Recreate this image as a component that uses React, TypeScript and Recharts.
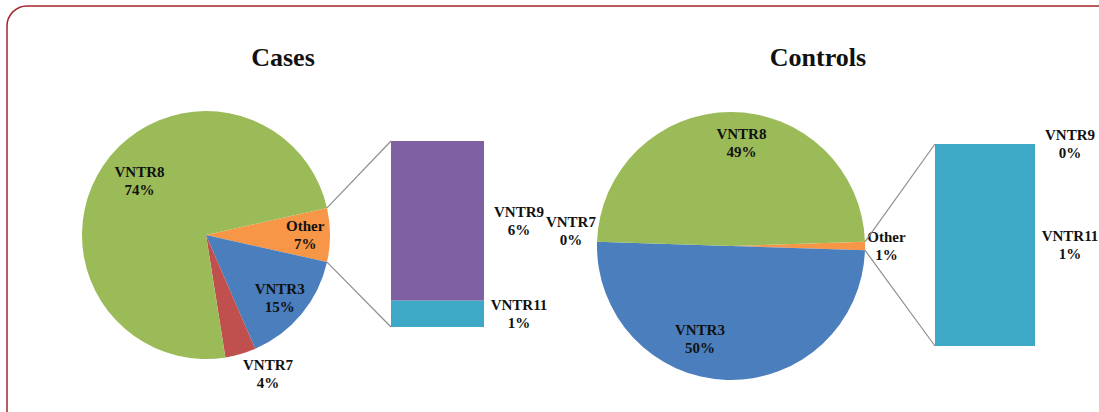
import React from "react";
import { PieChart, Pie, Cell, BarChart, Bar, XAxis, YAxis } from "recharts";

// pie slices, "Other" first so it sits on the right side
const sliceNames = ["Other", "VNTR3", "VNTR7", "VNTR8"];
const casesValues = [7, 15, 4, 74];
const controlsValues = [1, 50, 0, 49];

// breakdown of "Other", bottom to top
const barNames = ["VNTR11", "VNTR9"];
const casesBarValues = [1, 6];
const controlsBarValues = [1, 0];

const sliceColors: Record<string, string> = {
  Other: "#f79646",
  VNTR3: "#4a7ebd",
  VNTR7: "#c0504d",
  VNTR8: "#9bbb59",
};
const barColors: Record<string, string> = {
  VNTR9: "#7f60a2",
  VNTR11: "#3ea8c7",
};

const FONT = "'Liberation Serif', 'Times New Roman', serif";
const labelStyle = { fontFamily: FONT, fontWeight: 700, fontSize: 15, fill: "#111" };

type Layout = {
  title: string;
  titleX: number;
  cx: number;
  cy: number;
  r: number;
  bar: { x: number; y: number; w: number; h: number };
  // [radius factor, angle shift in degrees]
  labels: Record<string, [number, number]>;
};

const casesLayout: Layout = {
  title: "Cases",
  titleX: 283,
  cx: 206,
  cy: 235,
  r: 124,
  bar: { x: 391, y: 141, w: 93, h: 186 },
  labels: { Other: [0.8, 0], VNTR3: [0.78, -0.8], VNTR7: [1.23, 7.8], VNTR8: [0.69, -4.8] },
};

const controlsLayout: Layout = {
  title: "Controls",
  titleX: 818,
  cx: 731,
  cy: 246,
  r: 134,
  bar: { x: 935, y: 144, w: 100, h: 202 },
  labels: { Other: [1.16, 0], VNTR3: [0.73, -16.7], VNTR7: [1.2, -3.6], VNTR8: [0.77, -5.8] },
};

const PIE_BOX = 440;

function TwoLine({ x, y, top, bottom }: { x: number; y: number; top: string; bottom: string }) {
  return (
    <text x={x} y={y} textAnchor="middle" style={labelStyle}>
      <tspan x={x} dy={-4}>{top}</tspan>
      <tspan x={x} dy={18}>{bottom}</tspan>
    </text>
  );
}

function Panel({ layout, values, barValues }: { layout: Layout; values: number[]; barValues: number[] }) {
  const pieData = sliceNames.map((name, i) => ({ name, value: values[i] }));
  const total = values.reduce((a, b) => a + b, 0);
  const row: Record<string, any> = { cat: "Other" };
  barNames.forEach((n, i) => (row[n] = barValues[i]));

  // "Other" slice is centred on the horizontal axis
  const startAngle = (values[0] / total) * 180;
  const endAngle = startAngle - 360;
  const left = layout.cx - PIE_BOX / 2;

  const pieLabel = (props: any) => {
    const name = props.name ?? props.payload?.name;
    const [k, shift] = layout.labels[name];
    const a = ((props.midAngle + shift) * Math.PI) / 180;
    const x = props.cx + props.outerRadius * k * Math.cos(a);
    const y = props.cy - props.outerRadius * k * Math.sin(a);
    const pct = Math.round((props.value / total) * 100);
    return <TwoLine x={x} y={y} top={name} bottom={`${pct}%`} />;
  };

  const { bar } = layout;
  return (
    <>
      <div style={{ position: "absolute", left, top: 0 }}>
        <PieChart width={PIE_BOX} height={412} margin={{ top: 0, right: 0, bottom: 0, left: 0 }}>
          <Pie
            data={pieData}
            dataKey="value"
            nameKey="name"
            cx={PIE_BOX / 2}
            cy={layout.cy}
            outerRadius={layout.r}
            startAngle={startAngle}
            endAngle={endAngle}
            stroke="none"
            label={pieLabel}
            labelLine={false}
            isAnimationActive={false}
          >
            {pieData.map((d) => (
              <Cell key={d.name} fill={sliceColors[d.name]} />
            ))}
          </Pie>
        </PieChart>
      </div>
      <div style={{ position: "absolute", left: bar.x, top: bar.y }}>
        <BarChart
          width={bar.w}
          height={bar.h}
          data={[row]}
          margin={{ top: 0, right: 0, bottom: 0, left: 0 }}
          barCategoryGap={0}
        >
          <XAxis dataKey="cat" hide />
          <YAxis hide domain={[0, "dataMax"]} />
          {barNames.map((n) => (
            <Bar key={n} dataKey={n} stackId="s" fill={barColors[n]} isAnimationActive={false} />
          ))}
        </BarChart>
      </div>
    </>
  );
}

function Overlay({ layout, values, barValues }: { layout: Layout; values: number[]; barValues: number[] }) {
  const total = values.reduce((a, b) => a + b, 0);
  const a1 = (values[0] / total) * Math.PI;
  const a2 = -a1;
  const p1 = [layout.cx + layout.r * Math.cos(a1), layout.cy - layout.r * Math.sin(a1)];
  const p2 = [layout.cx + layout.r * Math.cos(a2), layout.cy - layout.r * Math.sin(a2)];
  const { bar } = layout;
  const barTotal = barValues.reduce((a, b) => a + b, 0);
  let cum = 0;
  const labels = barNames.map((n, i) => {
    const mid = cum + barValues[i] / 2;
    cum += barValues[i];
    return { n, v: barValues[i], y: bar.y + bar.h * (1 - mid / barTotal) };
  });
  return (
    <g>
      <g stroke="#8e8e8e" strokeWidth={1.2}>
        <line x1={p1[0]} y1={p1[1]} x2={bar.x} y2={bar.y} />
        <line x1={p2[0]} y1={p2[1]} x2={bar.x} y2={bar.y + bar.h} />
      </g>
      {labels.map((l) => (
        <TwoLine key={l.n} x={bar.x + bar.w + 35} y={l.y} top={l.n} bottom={`${l.v}%`} />
      ))}
      <text
        x={layout.titleX}
        y={66}
        textAnchor="middle"
        style={{ fontFamily: FONT, fontWeight: 700, fontSize: 26, fill: "#111" }}
      >
        {layout.title}
      </text>
    </g>
  );
}

export default function App() {
  return (
    <div style={{ position: "absolute", left: 0, top: 0, width: 1099, height: 412, overflow: "hidden", background: "#fff" }}>
      <Panel layout={casesLayout} values={casesValues} barValues={casesBarValues} />
      <Panel layout={controlsLayout} values={controlsValues} barValues={controlsBarValues} />
      <svg width={1099} height={412} style={{ position: "absolute", left: 0, top: 0, pointerEvents: "none" }}>
        <rect x={7} y={6} width={1130} height={440} rx={20} fill="none" stroke="#a3262b" strokeWidth={1.5} />
        <Overlay layout={casesLayout} values={casesValues} barValues={casesBarValues} />
        <Overlay layout={controlsLayout} values={controlsValues} barValues={controlsBarValues} />
      </svg>
    </div>
  );
}
